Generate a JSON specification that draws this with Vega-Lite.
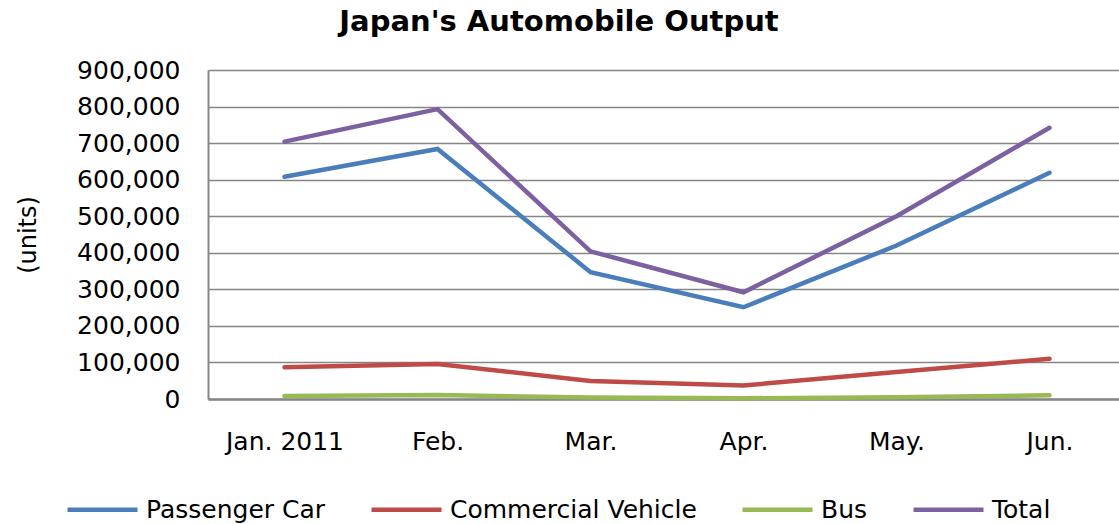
{
  "$schema": "https://vega.github.io/schema/vega-lite/v6.json",
  "autosize": {"type": "none"},
  "padding": {"left": 208, "top": 70, "right": 0, "bottom": 125},
  "width": 918,
  "height": 329,
  "background": "white",
  "title": {
    "text": "Japan's Automobile Output",
    "font": "DejaVu Sans",
    "fontSize": 29,
    "fontWeight": "bold",
    "color": "#000000",
    "anchor": "middle",
    "dx": -108,
    "offset": 21
  },
  "data": {
    "values": [
      {"month": "Jan. 2011", "series": "Passenger Car", "value": 608000},
      {"month": "Feb.", "series": "Passenger Car", "value": 684000},
      {"month": "Mar.", "series": "Passenger Car", "value": 347000},
      {"month": "Apr.", "series": "Passenger Car", "value": 251000},
      {"month": "May.", "series": "Passenger Car", "value": 420000},
      {"month": "Jun.", "series": "Passenger Car", "value": 619000},
      {"month": "Jan. 2011", "series": "Commercial Vehicle", "value": 87000},
      {"month": "Feb.", "series": "Commercial Vehicle", "value": 96000},
      {"month": "Mar.", "series": "Commercial Vehicle", "value": 49000},
      {"month": "Apr.", "series": "Commercial Vehicle", "value": 37000},
      {"month": "May.", "series": "Commercial Vehicle", "value": 74000},
      {"month": "Jun.", "series": "Commercial Vehicle", "value": 110000},
      {"month": "Jan. 2011", "series": "Bus", "value": 8000},
      {"month": "Feb.", "series": "Bus", "value": 11000},
      {"month": "Mar.", "series": "Bus", "value": 4000},
      {"month": "Apr.", "series": "Bus", "value": 2000},
      {"month": "May.", "series": "Bus", "value": 5000},
      {"month": "Jun.", "series": "Bus", "value": 10000},
      {"month": "Jan. 2011", "series": "Total", "value": 704000},
      {"month": "Feb.", "series": "Total", "value": 793000},
      {"month": "Mar.", "series": "Total", "value": 404000},
      {"month": "Apr.", "series": "Total", "value": 292000},
      {"month": "May.", "series": "Total", "value": 500000},
      {"month": "Jun.", "series": "Total", "value": 742000}
    ]
  },
  "mark": {"type": "line", "strokeWidth": 4.5, "strokeCap": "round", "strokeJoin": "miter"},
  "encoding": {
    "x": {
      "field": "month",
      "type": "ordinal",
      "sort": ["Jan. 2011", "Feb.", "Mar.", "Apr.", "May.", "Jun."],
      "scale": {"type": "point", "padding": 0.5},
      "axis": {
        "title": null,
        "labelAngle": 0,
        "ticks": false,
        "grid": false,
        "domainColor": "#868686",
        "domainWidth": 2.5,
        "labelPadding": 30,
        "labelFont": "DejaVu Sans",
        "labelFontSize": 25,
        "labelColor": "#000000"
      }
    },
    "y": {
      "field": "value",
      "type": "quantitative",
      "scale": {"domain": [0, 900000], "nice": false},
      "axis": {
        "title": "(units)",
        "titleFont": "DejaVu Sans",
        "titleFontSize": 24,
        "titleFontWeight": "normal",
        "titleColor": "#000000",
        "titlePadding": 36,
        "values": [0, 100000, 200000, 300000, 400000, 500000, 600000, 700000, 800000, 900000],
        "format": ",d",
        "ticks": false,
        "grid": true,
        "gridColor": "#868686",
        "gridWidth": 1.5,
        "gridOpacity": 1,
        "domainColor": "#868686",
        "domainWidth": 2,
        "labelPadding": 28,
        "labelFont": "DejaVu Sans",
        "labelFontSize": 25,
        "labelColor": "#000000"
      }
    },
    "color": {
      "field": "series",
      "type": "nominal",
      "scale": {
        "domain": ["Passenger Car", "Commercial Vehicle", "Bus", "Total"],
        "range": ["#4A7EBB", "#BE4B48", "#98B954", "#7D60A0"]
      },
      "legend": {
        "title": null,
        "orient": "none",
        "direction": "horizontal",
        "legendX": -143,
        "legendY": 402,
        "symbolType": "stroke",
        "symbolSize": 4900,
        "symbolStrokeWidth": 4.5,
        "labelFont": "DejaVu Sans",
        "labelFontSize": 25,
        "labelColor": "#000000",
        "labelOffset": 6,
        "columnPadding": 36,
        "labelLimit": 400
      }
    }
  },
  "config": {
    "view": {"stroke": null}
  }
}
